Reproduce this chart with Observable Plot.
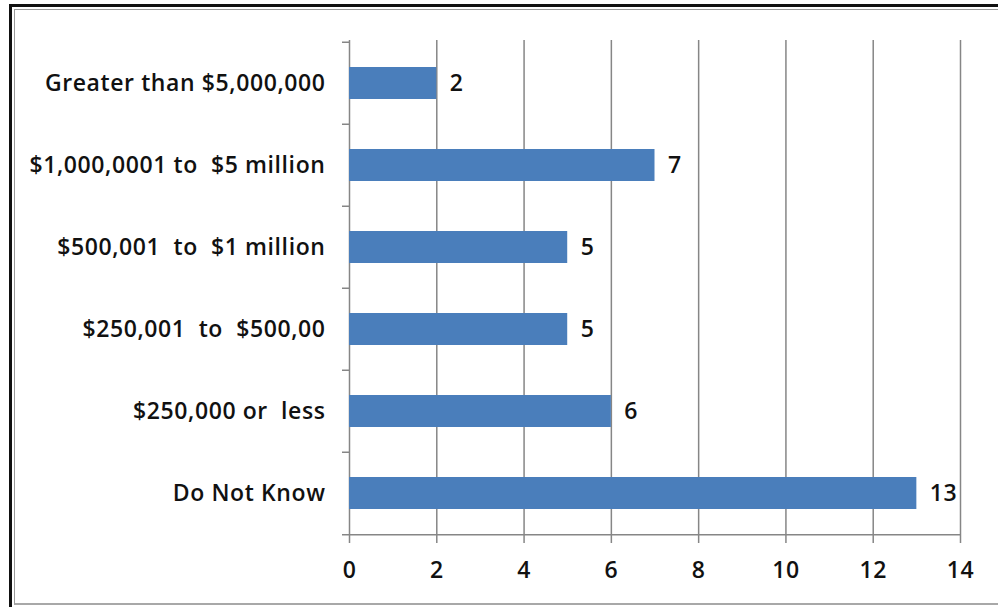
<!DOCTYPE html>
<html>
<head>
<meta charset="utf-8">
<script src="https://cdn.jsdelivr.net/npm/d3@7"></script>
<script src="https://cdn.jsdelivr.net/npm/@observablehq/plot@0.6"></script>
<style>
  html, body { margin: 0; padding: 0; background: #fff; overflow: hidden; }
  #wrap { position: relative; width: 998px; height: 607px; }
  #chart { position: absolute; left: 0; top: 0; }
  .outer { position: absolute; left: 9px; top: 4px; width: 1000px; height: 620px;
           border-left: 3px solid #111; border-top: 3px solid #111; }
  .inner { position: absolute; left: 14px; top: 9px; width: 1000px; height: 593px;
           border-left: 1px solid #9a9a9a; border-top: 1px solid #9a9a9a; border-bottom: 2px solid #a8a8a8; }
</style>
</head>
<body>
<div id="wrap">
  <div id="chart"></div>
  <div class="outer"></div>
  <div class="inner"></div>
</div>
<script>
const categories = [
  "Greater than $5,000,000",
  "$1,000,0001 to  $5 million",
  "$500,001  to  $1 million",
  "$250,001  to  $500,00",
  "$250,000 or  less",
  "Do Not Know"
];
const values = [2, 7, 5, 5, 6, 13];
const xTicks = [0, 2, 4, 6, 8, 10, 12, 14];

const data = categories.map((c, i) => ({category: c, value: values[i]}));
const font = "'Open Sans', Lato, sans-serif";

const step = (607 - 40 - 72) / categories.length;

const chart = Plot.plot({
  width: 998,
  height: 607,
  marginLeft: 349,
  marginRight: 38,
  marginTop: 40,
  marginBottom: 72,
  style: {fontFamily: font, fontSize: "23px", fontWeight: 600, letterSpacing: "0.6px", color: "#111", background: "transparent"},
  x: {domain: [0, 14], ticks: xTicks},
  y: {domain: categories, padding: 0},
  marks: [
    Plot.gridX(xTicks.filter(d => d > 0), {stroke: "#868686", strokeOpacity: 1, strokeWidth: 1.5}),
    Plot.ruleY([categories[categories.length - 1]], {stroke: "#868686", strokeWidth: 1.5, dy: step / 2, x1: 0, x2: 14}),
    Plot.ruleX([0], {stroke: "#868686", strokeWidth: 1.5}),
    Plot.barX(data, {x: "value", y: "category", fill: "#4a7ebb", insetTop: 25, insetBottom: 25}),
    Plot.text(data, {x: "value", y: "category", text: d => String(d.value), textAnchor: "start", dx: 13, fill: "#111", fontSize: 23}),
    Plot.axisX({ticks: xTicks, tickSize: 8, tickPadding: 18, stroke: "#868686", strokeWidth: 1.5, fill: "#111", fontSize: 23, label: null}),
    Plot.axisY({tickSize: 0, tickPadding: 24, fill: "#111", fontSize: 23, label: null}),
    Plot.axisY({tickSize: 7, text: null, dy: -step / 2, stroke: "#868686", strokeWidth: 1.5, label: null}),
    Plot.axisY([categories[categories.length - 1]], {tickSize: 7, text: null, dy: step / 2, stroke: "#868686", strokeWidth: 1.5, label: null})
  ]
});
document.getElementById("chart").appendChild(chart);
</script>
</body>
</html>
